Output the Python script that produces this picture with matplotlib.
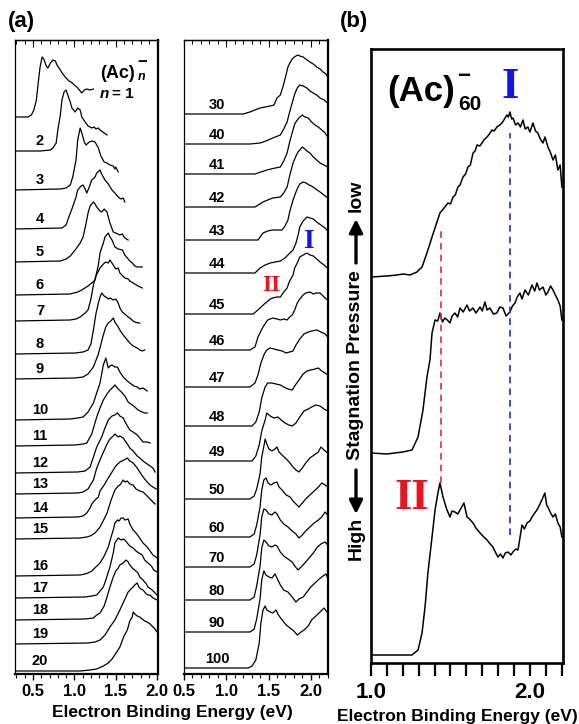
import numpy as np
import matplotlib.pyplot as plt
from matplotlib.ticker import MultipleLocator, FormatStrFormatter, NullFormatter
from matplotlib.patches import FancyArrowPatch

plt.rcParams['font.family'] = ['Liberation Sans', 'DejaVu Sans']
plt.rcParams['font.weight'] = 'bold'

# ---- panel (a), left column: (Ac)n-, n = 1..20  (eV, height)
n1 = [(0.28,0),(0.44,0),(0.48,2),(0.51,7),(0.54,17),(0.56,32),(0.585,50),(0.61,60),(0.63,58),(0.66,51),(0.68,49),(0.71,54),(0.74,57),(0.77,56),(0.79,52),(0.83,47),(0.86,43),(0.90,39),(0.935,36),(0.96,35),(1.00,32),(1.03,30),(1.07,26),(1.09,24),(1.12,27),(1.15,28),(1.19,27),(1.23,28)]
n2 = [(0.28,0),(0.585,0),(0.71,1),(0.74,3),(0.78,8),(0.80,21),(0.83,36),(0.85,51),(0.875,59),(0.90,61),(0.92,56),(0.95,49),(0.97,43),(1.01,39),(1.04,43),(1.07,41),(1.09,34),(1.13,29),(1.165,25),(1.19,24),(1.21,23),(1.24,24),(1.26,22),(1.29,23),(1.31,21),(1.36,18),(1.395,16)]
n3 = [(0.28,0),(0.83,1),(0.90,2),(0.95,5),(0.98,13),(1.02,30),(1.04,50),(1.07,62),(1.09,57),(1.12,48),(1.14,45),(1.18,48),(1.21,49),(1.25,48),(1.29,42),(1.32,34),(1.36,28),(1.395,27),(1.43,25),(1.47,24),(1.49,21),(1.50,23),(1.53,18)]
n4 = [(0.28,0),(0.85,1),(0.90,4),(0.92,9),(0.97,20),(1.02,32),(1.04,39),(1.08,43),(1.105,44),(1.13,40),(1.15,36),(1.18,42),(1.21,49),(1.25,52),(1.27,56),(1.31,59),(1.33,55),(1.37,49),(1.41,45),(1.455,39),(1.49,36),(1.53,32),(1.564,30),(1.59,31),(1.61,27)]
n5 = [(0.28,0),(0.83,1),(0.90,3),(0.95,6),(1.01,12),(1.07,19),(1.105,25),(1.14,38),(1.165,49),(1.19,56),(1.23,60),(1.25,58),(1.27,55),(1.31,51),(1.33,50),(1.36,53),(1.395,50),(1.41,45),(1.43,39),(1.47,30),(1.50,29),(1.55,27),(1.58,28),(1.61,24),(1.65,22)]
n6 = [(0.28,0),(0.95,1),(1.04,3),(1.09,5),(1.165,9),(1.21,12),(1.25,15),(1.29,30),(1.31,42),(1.35,52),(1.37,58),(1.41,62),(1.43,58),(1.455,55),(1.49,48),(1.53,46),(1.58,45),(1.61,40),(1.64,37),(1.67,34),(1.70,32),(1.73,29),(1.76,28),(1.79,28),(1.82,28)]
n7 = [(0.28,0),(0.95,1),(1.02,2),(1.07,4),(1.13,8),(1.165,11),(1.20,22),(1.23,36),(1.26,45),(1.31,53),(1.35,57),(1.38,59),(1.41,58),(1.43,61),(1.47,56),(1.50,52),(1.53,53),(1.55,48),(1.61,43),(1.65,42),(1.67,40),(1.73,37),(1.77,35),(1.82,33)]
n8 = [(0.28,0),(1.01,1),(1.105,2),(1.165,4),(1.20,10),(1.23,24),(1.26,40),(1.29,51),(1.31,57),(1.33,61),(1.36,58),(1.38,57),(1.41,55),(1.43,56),(1.47,54),(1.50,55),(1.53,51),(1.55,46),(1.58,42),(1.61,40),(1.65,37),(1.67,36),(1.71,33),(1.73,32),(1.77,31),(1.79,31)]
n9 = [(0.28,0),(1.01,1),(1.105,2),(1.165,5),(1.23,12),(1.29,25),(1.35,44),(1.38,52),(1.41,56),(1.44,58),(1.47,61),(1.49,57),(1.53,52),(1.55,49),(1.59,44),(1.64,39),(1.67,36),(1.71,33),(1.76,31),(1.79,29),(1.82,28),(1.85,29)]
n10 = [(0.28,0),(0.95,1),(1.04,2),(1.105,3),(1.165,8),(1.23,17),(1.27,27),(1.31,37),(1.35,55),(1.38,62),(1.41,52),(1.43,54),(1.455,55),(1.49,53),(1.52,53),(1.55,48),(1.59,43),(1.64,39),(1.67,37),(1.72,34),(1.76,33),(1.79,31),(1.83,32),(1.88,29)]
n11 = [(0.28,0),(1.01,1),(1.105,2),(1.15,3),(1.21,12),(1.27,29),(1.31,38),(1.35,46),(1.395,52),(1.43,56),(1.47,59),(1.49,61),(1.53,57),(1.58,53),(1.61,50),(1.65,44),(1.70,41),(1.73,39),(1.77,36),(1.82,34),(1.85,33),(1.88,33)]
n12 = [(0.28,0),(1.04,1),(1.13,2),(1.19,6),(1.23,16),(1.27,26),(1.33,36),(1.37,45),(1.41,53),(1.455,57),(1.49,58),(1.52,60),(1.55,57),(1.59,55),(1.62,50),(1.67,43),(1.71,41),(1.76,38),(1.79,35),(1.83,31),(1.88,31),(1.915,30)]
n13 = [(0.28,0),(1.04,1),(1.105,2),(1.165,5),(1.23,14),(1.27,26),(1.33,38),(1.395,50),(1.43,55),(1.47,58),(1.49,60),(1.53,57),(1.55,58),(1.59,56),(1.64,50),(1.67,46),(1.71,43),(1.76,38),(1.79,36),(1.83,33),(1.88,30),(1.915,28),(1.95,26),(1.975,22)]
n14 = [(0.28,0),(1.04,1),(1.105,2),(1.15,5),(1.19,10),(1.21,14),(1.25,18),(1.29,21),(1.31,27),(1.36,33),(1.395,38),(1.455,46),(1.50,52),(1.55,56),(1.60,58),(1.64,60),(1.67,57),(1.71,55),(1.76,50),(1.79,46),(1.84,40),(1.88,36),(1.915,33),(1.95,31),(1.99,29)]
n15 = [(0.28,0),(1.07,1),(1.15,2),(1.19,3),(1.25,6),(1.31,12),(1.36,20),(1.395,26),(1.44,38),(1.49,49),(1.53,53),(1.55,54),(1.59,59),(1.61,57),(1.64,58),(1.67,55),(1.71,54),(1.745,50),(1.79,48),(1.83,47),(1.88,43),(1.915,40),(1.95,37),(1.975,35)]
n16 = [(0.28,0),(1.07,1),(1.13,2),(1.165,3),(1.21,5),(1.26,9),(1.31,13),(1.36,20),(1.41,29),(1.44,38),(1.47,46),(1.49,53),(1.52,56),(1.54,55),(1.565,58),(1.59,58),(1.61,56),(1.65,57),(1.67,52),(1.71,46),(1.745,43),(1.79,38),(1.83,33),(1.88,29),(1.915,25),(1.95,21),(2.0,18)]
n17 = [(0.28,0),(1.13,1),(1.21,2),(1.27,3),(1.31,7),(1.35,11),(1.38,18),(1.43,31),(1.47,45),(1.49,55),(1.53,60),(1.565,58),(1.59,59),(1.61,58),(1.65,54),(1.67,52),(1.71,50),(1.745,47),(1.78,45),(1.82,43),(1.85,38),(1.89,35),(1.93,32),(1.96,28),(2.0,26)]
n18 = [(0.28,0),(1.13,1),(1.23,2),(1.27,5),(1.31,7),(1.36,14),(1.395,23),(1.43,33),(1.47,43),(1.50,49),(1.53,52),(1.55,55),(1.59,57),(1.625,60),(1.65,58),(1.67,55),(1.70,52),(1.73,50),(1.77,47),(1.79,43),(1.83,40),(1.87,36),(1.89,33),(1.94,30),(1.975,27),(2.0,25)]
n19 = [(0.28,0),(1.165,1),(1.25,2),(1.31,4),(1.37,9),(1.43,17),(1.49,24),(1.55,34),(1.60,43),(1.65,52),(1.685,55),(1.71,57),(1.73,59),(1.76,61),(1.78,57),(1.805,55),(1.83,54),(1.87,50),(1.89,49),(1.915,49),(1.95,46),(1.975,45),(2.0,44)]
n20 = [(0.28,0),(1.07,0),(1.19,1),(1.27,2),(1.35,5),(1.41,8),(1.455,12),(1.52,20),(1.55,24),(1.60,35),(1.64,41),(1.67,50),(1.70,54),(1.71,59),(1.73,57),(1.76,55),(1.79,54),(1.82,52),(1.85,50),(1.88,49),(1.915,47),(1.95,44),(1.975,42),(2.0,39)]

left_spectra = [n1, n2, n3, n4, n5, n6, n7, n8, n9, n10,
                n11, n12, n13, n14, n15, n16, n17, n18, n19, n20]
left_sizes = [str(k) for k in range(1, 21)]
left_offsets = [557, 523, 484, 445, 412, 379, 353, 320, 295, 254,
                228, 201, 180, 156, 135, 98, 76, 54, 30, 3]

# ---- panel (a), right column: n = 30..100
n30 = [(0.5,0),(1.20,0),(1.28,2),(1.40,6),(1.52,8),(1.565,9),(1.60,16),(1.64,19),(1.67,27),(1.71,40),(1.73,47),(1.765,53),(1.79,56),(1.825,58),(1.85,59),(1.87,58),(1.91,57),(1.94,55),(1.99,52),(2.03,50),(2.07,47),(2.11,45),(2.145,42),(2.18,40),(2.20,37)]
n40 = [(0.5,0),(1.28,0),(1.40,1),(1.47,3),(1.55,6),(1.64,9),(1.68,15),(1.72,22),(1.75,32),(1.78,41),(1.81,50),(1.84,56),(1.87,59),(1.91,58),(1.955,56),(1.99,53),(2.03,51),(2.07,49),(2.11,46),(2.157,44),(2.20,41)]
n41 = [(0.5,0),(1.34,0),(1.48,4),(1.58,6),(1.64,7),(1.68,13),(1.72,21),(1.75,32),(1.78,41),(1.81,50),(1.84,54),(1.87,57),(1.90,59),(1.93,57),(1.97,56),(2.01,52),(2.05,49),(2.09,47),(2.13,44),(2.17,41),(2.20,37)]
n42 = [(0.5,0),(1.34,0),(1.435,5),(1.49,7),(1.55,9),(1.64,10),(1.68,14),(1.72,20),(1.75,31),(1.79,44),(1.825,51),(1.85,55),(1.90,60),(1.93,58),(1.955,56),(1.99,54),(2.03,50),(2.07,47),(2.11,44),(2.157,42),(2.20,40)]
n43 = [(0.5,0),(1.375,0),(1.435,7),(1.49,9),(1.55,10),(1.66,10),(1.695,14),(1.73,20),(1.75,28),(1.79,40),(1.825,48),(1.85,53),(1.87,56),(1.91,58),(1.945,57),(1.98,55),(2.01,54),(2.06,51),(2.11,48),(2.157,45),(2.20,42)]
n44 = [(0.5,0),(1.34,0),(1.40,5),(1.46,8),(1.52,10),(1.58,11),(1.64,12),(1.695,15),(1.73,18),(1.79,23),(1.825,30),(1.85,38),(1.87,46),(1.91,52),(1.955,56),(1.99,55),(2.03,54),(2.07,51),(2.12,48),(2.17,45),(2.20,42)]
n45 = [(0.5,0),(1.32,0),(1.36,3),(1.40,6),(1.45,10),(1.48,12),(1.52,15),(1.55,16),(1.60,17),(1.64,17),(1.68,22),(1.72,26),(1.75,33),(1.79,39),(1.81,46),(1.84,51),(1.87,57),(1.91,59),(1.955,61),(1.99,59),(2.03,58),(2.07,55),(2.11,52),(2.157,49),(2.20,46)]
n46 = [(0.5,0),(1.28,0),(1.34,3),(1.375,13),(1.435,23),(1.49,30),(1.55,32),(1.60,31),(1.64,30),(1.68,31),(1.72,30),(1.75,33),(1.78,35),(1.81,40),(1.84,47),(1.87,51),(1.91,55),(1.94,57),(1.99,58),(2.03,56),(2.06,57),(2.11,57),(2.157,53),(2.20,50)]
n47 = [(0.5,0),(1.28,0),(1.34,4),(1.375,12),(1.41,24),(1.45,33),(1.48,37),(1.52,39),(1.565,38),(1.61,37),(1.66,36),(1.71,34),(1.75,35),(1.79,36),(1.825,42),(1.87,48),(1.92,53),(1.97,55),(2.01,56),(2.07,57),(2.12,55),(2.17,53),(2.20,50)]
n48 = [(0.5,0),(1.305,0),(1.35,4),(1.39,14),(1.42,28),(1.46,39),(1.49,43),(1.54,43),(1.59,42),(1.64,41),(1.68,39),(1.73,37),(1.78,36),(1.81,40),(1.86,46),(1.91,52),(1.955,55),(2.0,56),(2.05,57),(2.09,58),(2.13,55),(2.17,53),(2.20,51)]
n49 = [(0.5,0),(1.305,0),(1.35,5),(1.39,16),(1.42,30),(1.46,41),(1.48,48),(1.52,45),(1.565,43),(1.61,44),(1.65,41),(1.695,38),(1.74,36),(1.78,35),(1.825,38),(1.87,44),(1.92,50),(1.97,52),(2.01,54),(2.06,56),(2.11,55),(2.157,52),(2.20,50)]
n50 = [(0.5,0),(1.28,0),(1.33,3),(1.36,10),(1.40,25),(1.42,42),(1.45,55),(1.46,60),(1.48,55),(1.505,50),(1.54,48),(1.577,50),(1.60,52),(1.625,47),(1.66,44),(1.71,40),(1.755,36),(1.79,32),(1.825,29),(1.86,27),(1.90,31),(1.94,36),(1.99,41),(2.04,44),(2.09,47),(2.12,52),(2.157,49),(2.20,46)]
n60 = [(0.5,0),(1.28,0),(1.33,3),(1.36,12),(1.40,30),(1.42,47),(1.445,57),(1.47,59),(1.495,54),(1.53,52),(1.565,54),(1.60,55),(1.625,50),(1.66,47),(1.71,42),(1.755,40),(1.79,36),(1.825,33),(1.86,30),(1.90,34),(1.94,38),(1.99,42),(2.04,46),(2.09,50),(2.13,54),(2.17,52),(2.20,50)]
n70 = [(0.5,0),(1.28,0),(1.33,3),(1.36,12),(1.40,32),(1.42,50),(1.445,58),(1.47,57),(1.505,53),(1.54,52),(1.577,55),(1.60,53),(1.64,47),(1.68,43),(1.73,40),(1.78,36),(1.825,33),(1.86,29),(1.90,32),(1.94,36),(1.99,40),(2.04,44),(2.09,47),(2.13,50),(2.17,55),(2.20,52)]
n80 = [(0.5,0),(1.28,0),(1.33,3),(1.36,14),(1.40,34),(1.42,52),(1.445,60),(1.47,58),(1.505,54),(1.54,53),(1.577,55),(1.60,54),(1.64,48),(1.68,44),(1.73,41),(1.78,38),(1.81,34),(1.85,30),(1.885,33),(1.93,37),(1.98,42),(2.03,47),(2.07,52),(2.12,56),(2.17,58),(2.20,55)]
n90 = [(0.5,0),(1.28,0),(1.33,3),(1.36,13),(1.40,33),(1.42,52),(1.445,61),(1.47,57),(1.505,55),(1.54,54),(1.577,58),(1.60,54),(1.64,47),(1.68,42),(1.73,40),(1.78,35),(1.825,30),(1.86,33),(1.91,35),(1.955,40),(2.0,45),(2.05,49),(2.10,53),(2.145,56),(2.18,58),(2.20,54)]
n100 = [(0.5,0),(1.26,0),(1.305,2),(1.35,8),(1.39,25),(1.41,45),(1.435,58),(1.46,62),(1.48,58),(1.52,56),(1.55,55),(1.59,58),(1.61,54),(1.66,48),(1.71,43),(1.755,40),(1.80,37),(1.84,33),(1.87,35),(1.92,38),(1.97,42),(2.01,48),(2.06,52),(2.11,56),(2.157,60),(2.20,55)]

right_spectra = [n30, n40, n41, n42, n43, n44, n45, n46, n47, n48, n49,
                 n50, n60, n70, n80, n90, n100]
right_sizes = ['30', '40', '41', '42', '43', '44', '45', '46', '47', '48', '49',
               '50', '60', '70', '80', '90', '100']
right_offsets = [560, 530, 500, 467, 434, 401, 360, 324, 287, 248, 213,
                 175, 137, 107, 74, 42, 6]

# ---- panel (b): (Ac)60- at three stagnation pressures (low -> high)
b_low = [(1.0,0),(1.10,1),(1.164,2),(1.201,3),(1.245,2),(1.289,5),(1.321,10),(1.352,24),(1.384,40),(1.415,55),(1.434,64),(1.465,70),(1.484,74),(1.50,73),(1.516,80),(1.53,82),(1.547,90),(1.56,92),(1.579,100),(1.595,103),(1.61,110),(1.625,112),(1.642,124),(1.655,126),(1.667,132),(1.685,131),(1.698,134),(1.71,137),(1.73,140),(1.745,143),(1.761,147),(1.775,146),(1.792,150),(1.81,152),(1.824,154),(1.84,158),(1.855,162),(1.865,160),(1.874,165),(1.885,158),(1.893,159),(1.91,152),(1.925,154),(1.94,150),(1.956,157),(1.97,148),(1.987,150),(2.00,145),(2.019,154),(2.035,146),(2.05,144),(2.065,138),(2.082,134),(2.095,140),(2.113,130),(2.13,124),(2.145,117),(2.16,122),(2.176,107),(2.19,112),(2.201,90)]
b_mid = [(1.0,0),(1.10,-1),(1.20,1),(1.258,3),(1.296,16),(1.327,43),(1.352,76),(1.371,93),(1.384,120),(1.403,133),(1.42,132),(1.434,140),(1.45,131),(1.465,135),(1.48,133),(1.497,130),(1.51,137),(1.528,140),(1.545,136),(1.56,145),(1.58,141),(1.604,148),(1.62,142),(1.642,145),(1.66,140),(1.686,146),(1.70,142),(1.717,151),(1.73,143),(1.748,145),(1.77,139),(1.792,140),(1.81,146),(1.83,145),(1.85,137),(1.874,141),(1.89,147),(1.906,150),(1.92,156),(1.937,160),(1.95,154),(1.969,163),(1.99,158),(2.013,168),(2.03,162),(2.044,170),(2.06,163),(2.082,166),(2.10,158),(2.113,161),(2.13,167),(2.145,163),(2.16,158),(2.176,153),(2.19,147),(2.201,133)]
b_high = [(1.0,0),(1.15,0),(1.258,0),(1.296,5),(1.321,22),(1.34,48),(1.358,82),(1.384,118),(1.403,145),(1.421,162),(1.434,172),(1.453,158),(1.478,145),(1.497,138),(1.51,144),(1.528,143),(1.545,141),(1.56,145),(1.585,152),(1.604,138),(1.62,136),(1.642,132),(1.66,127),(1.686,122),(1.71,118),(1.73,115),(1.75,111),(1.767,108),(1.785,102),(1.799,98),(1.815,101),(1.83,97),(1.845,102),(1.862,103),(1.88,100),(1.893,103),(1.91,106),(1.925,105),(1.95,130),(1.965,126),(1.981,132),(2.00,134),(2.013,138),(2.03,142),(2.044,145),(2.06,150),(2.075,155),(2.094,162),(2.105,150),(2.113,148),(2.13,142),(2.145,138),(2.16,141),(2.176,132),(2.19,128),(2.201,118)]

b_spectra = [b_low, b_mid, b_high]
b_offsets = [386, 210, 8]

# guide lines in (b): energy of feature II and I and their vertical extent
guide_energy = [1.44, 1.875]
guide_bottom = [180, 128]
guide_top = [435, 530]
guide_colors = ['#e03030', '#2a2ac8']

# ---- figure
W, H = 579, 724
fig = plt.figure(figsize=(W / 100, H / 100), dpi=100)


def box(x0, y0, x1, y1):
    return [x0 / W, 1 - y1 / H, (x1 - x0) / W, (y1 - y0) / H]


def ftext(x, y, s, **kw):
    fig.text(x / W, 1 - y / H, s, **kw)


def style_a(ax, xlim):
    ax.set_xlim(*xlim)
    ax.set_ylim(0, 634)
    ax.set_yticks([])
    ax.xaxis.set_major_locator(MultipleLocator(0.5))
    ax.xaxis.set_minor_locator(MultipleLocator(0.1))
    ax.xaxis.set_major_formatter(FormatStrFormatter('%.1f'))
    ax.tick_params(axis='x', which='major', direction='out', length=4.5, width=1.0,
                   labelsize=12, pad=3)
    ax.tick_params(axis='x', which='minor', direction='out', length=3, width=0.8)
    top = ax.secondary_xaxis('top')
    top.xaxis.set_major_locator(MultipleLocator(0.5))
    top.xaxis.set_minor_locator(MultipleLocator(0.1))
    top.xaxis.set_major_formatter(NullFormatter())
    top.tick_params(which='major', direction='in', length=5, width=0.8)
    top.tick_params(which='minor', direction='in', length=3, width=0.7)
    top.spines['top'].set_linewidth(1.0)
    ax.spines['left'].set_linewidth(0.9)
    ax.spines['right'].set_linewidth(1.6)
    ax.spines['bottom'].set_linewidth(1.6)


axL = fig.add_axes(box(15, 40, 158, 674))
axR = fig.add_axes(box(184, 40, 328, 674))
axB = fig.add_axes(box(371, 49, 563, 663))

style_a(axL, (0.282, 2.011))
style_a(axR, (0.5, 2.204))

for spec, off, lab in zip(left_spectra, left_offsets, left_sizes):
    pts = np.array(spec)
    axL.plot(pts[:, 0], pts[:, 1] + off, color='k', lw=0.9)
    if lab != '1':
        axL.text(0.585, off + 10, lab, ha='center', va='center', fontsize=10.5)

for spec, off, lab in zip(right_spectra, right_offsets, right_sizes):
    pts = np.array(spec)
    axR.plot(pts[:, 0], pts[:, 1] + off, color='k', lw=0.9)
    axR.text(0.89, off + 9, lab, ha='center', va='center', fontsize=10.5)

# (Ac)n- and n = 1 labels
ftext(100, 73, '(Ac)', fontsize=13, va='center', ha='left')
ftext(138, 77, 'n', fontsize=9, style='italic', va='center', ha='left')
ftext(137, 63, '\u2212', fontsize=12, va='center', ha='left')
ftext(100, 94, 'n', fontsize=11, style='italic', va='center', ha='left')
ftext(112, 94, '= 1', fontsize=11, va='center', ha='left')

# I / II in (a)
ftext(308, 242, 'I', fontsize=20, family='Liberation Serif', color='#1414e6',
      ha='center', va='center')
ftext(271, 285, 'II', fontsize=17, family='Liberation Serif', color='#e8141e',
      ha='center', va='center')

# ---- panel (b)
for spec, off in zip(b_spectra, b_offsets):
    pts = np.array(spec)
    axB.plot(pts[:, 0], pts[:, 1] + off, color='k', lw=1.1)

for e, y0, y1, c in zip(guide_energy, guide_bottom, guide_top, guide_colors):
    axB.plot([e, e], [y0, y1], color=c, lw=1.2, dashes=(4, 3))

axB.set_xlim(1.0, 2.208)
axB.set_ylim(0, 614)
axB.set_yticks([])
axB.xaxis.set_major_locator(MultipleLocator(1.0))
axB.xaxis.set_minor_locator(MultipleLocator(0.1))
axB.xaxis.set_major_formatter(FormatStrFormatter('%.1f'))
axB.tick_params(axis='x', which='both', direction='out', length=9, width=1.6,
                labelsize=16, pad=5)
for s in axB.spines.values():
    s.set_linewidth(1.9)

ftext(387, 91, '(Ac)', fontsize=25, va='center', ha='left')
ftext(458, 105, '60', fontsize=15, va='center', ha='left')
ftext(457, 76, '\u2212', fontsize=16, va='center', ha='left')
ftext(510, 87, 'I', fontsize=32, family='Liberation Serif', color='#1414e6',
      ha='center', va='center')
ftext(412, 498, 'II', fontsize=32, family='Liberation Serif', color='#e8141e',
      ha='center', va='center')

# stagnation pressure axis label with arrows
ftext(356, 196, 'low', fontsize=14, rotation=90, ha='center', va='center')
ftext(356, 365, 'Stagnation Pressure', fontsize=14, rotation=90, ha='center', va='center')
ftext(356, 538, 'High', fontsize=14, rotation=90, ha='center', va='center')
for y_tail, y_head in [(263, 219), (470, 514)]:
    fig.add_artist(FancyArrowPatch((356 / W, 1 - y_tail / H), (356 / W, 1 - y_head / H),
                                   transform=fig.transFigure, arrowstyle='-|>',
                                   mutation_scale=20, lw=2.4, color='k',
                                   shrinkA=0, shrinkB=0))

# panel letters and axis titles
ftext(8, 21, '(a)', fontsize=16, va='center', ha='left')
ftext(340, 22, '(b)', fontsize=16, va='center', ha='left')
ftext(172, 712, 'Electron Binding Energy (eV)', fontsize=12.5, ha='center', va='center')
ftext(457, 716, 'Electron Binding Energy (eV)', fontsize=12.5, ha='center', va='center')

fig.savefig('out.png', dpi=100)
